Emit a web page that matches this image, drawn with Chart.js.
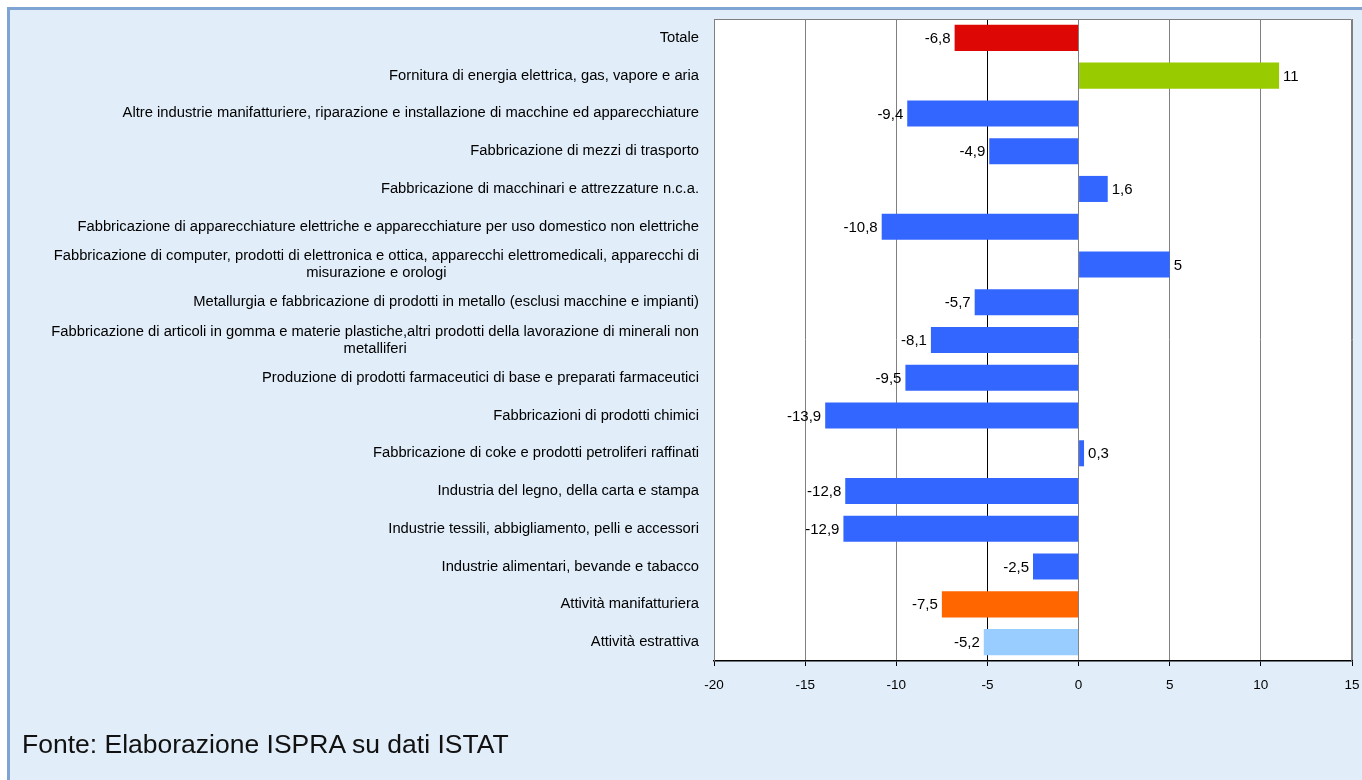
<!DOCTYPE html>
<html>
<head>
<meta charset="utf-8">
<script src="https://cdn.jsdelivr.net/npm/chart.js@4/dist/chart.umd.min.js"></script>
<style>
  html, body { margin: 0; padding: 0; width: 1362px; height: 780px; overflow: hidden; background: #ffffff; }
  #frame {
    position: absolute; left: 7px; top: 7px; width: 1400px; height: 800px;
    border-left: 3px solid #7fa3d3; border-top: 3px solid #7fa3d3;
    background: #e1edf8;
  }
  #wrap { position: absolute; left: 0; top: 0; width: 1362px; height: 780px; }
  #source {
    position: absolute; left: 22px; top: 729px;
    font-family: "Liberation Sans", Arial, sans-serif; font-size: 26.5px; color: #111;
  }
</style>
</head>
<body>
<div id="frame"></div>
<div id="wrap"><canvas id="chart" width="1362" height="780"></canvas></div>
<div id="source">Fonte: Elaborazione ISPRA su dati ISTAT</div>
<script>
// categorie (dall'alto verso il basso)
const categories = [
    'Totale',
    'Fornitura di energia elettrica, gas, vapore e aria',
    'Altre industrie manifatturiere, riparazione e installazione di macchine ed apparecchiature',
    'Fabbricazione di mezzi di trasporto',
    'Fabbricazione di macchinari e attrezzature n.c.a.',
    'Fabbricazione di apparecchiature elettriche e apparecchiature per uso domestico non elettriche',
    ['Fabbricazione di computer, prodotti di elettronica e ottica, apparecchi elettromedicali, apparecchi di', 'misurazione e orologi'],
    'Metallurgia e fabbricazione di prodotti in metallo (esclusi macchine e impianti)',
    ['Fabbricazione di articoli in gomma e materie plastiche,altri prodotti della lavorazione di minerali non', 'metalliferi'],
    'Produzione di prodotti farmaceutici di base e preparati farmaceutici',
    'Fabbricazioni di prodotti chimici',
    'Fabbricazione di coke e prodotti petroliferi raffinati',
    'Industria del legno, della carta e stampa',
    'Industrie tessili, abbigliamento, pelli e accessori',
    'Industrie alimentari, bevande e tabacco',
    'Attività manifatturiera',
    'Attività estrattiva'
];
const values = [-6.8, 11, -9.4, -4.9, 1.6, -10.8, 5, -5.7, -8.1, -9.5, -13.9, 0.3, -12.8, -12.9, -2.5, -7.5, -5.2];
const barColors = ['#dd0806', '#99cc00', '#3366ff', '#3366ff', '#3366ff', '#3366ff', '#3366ff', '#3366ff', '#3366ff',
    '#3366ff', '#3366ff', '#3366ff', '#3366ff', '#3366ff', '#3366ff', '#ff6600', '#99ccff'];
const xMin = -20, xMax = 15, xStep = 5;

const FONT = '"Liberation Sans", Arial, sans-serif';

function fmt(v) {
    return String(v).replace('.', ',');
}

// sfondo bianco e bordo dell'area del grafico
const areaPlugin = {
    id: 'area',
    beforeDraw(chart) {
        const a = chart.chartArea, ctx = chart.ctx;
        ctx.save();
        ctx.fillStyle = '#ffffff';
        ctx.fillRect(a.left, a.top, a.right - a.left, a.bottom - a.top);
        ctx.restore();
    },
    afterDraw(chart) {
        const a = chart.chartArea, ctx = chart.ctx;
        ctx.save();
        ctx.strokeStyle = '#808080';
        ctx.lineWidth = 1;
        ctx.beginPath();
        ctx.moveTo(a.left + 0.5, a.bottom);
        ctx.lineTo(a.left + 0.5, a.top + 0.5);
        ctx.lineTo(a.right - 0.5, a.top + 0.5);
        ctx.lineTo(a.right - 0.5, a.bottom);
        ctx.stroke();
        ctx.restore();
    }
};

// etichette delle categorie (righe centrate tra loro, blocco allineato a destra) ed etichette dei valori
const labelsPlugin = {
    id: 'labels',
    afterDatasetsDraw(chart) {
        const ctx = chart.ctx;
        const y = chart.scales.y;
        const x = chart.scales.x;
        ctx.save();
        ctx.font = '14.75px ' + FONT;
        ctx.fillStyle = '#000000';
        ctx.textBaseline = 'middle';
        const rightEdge = chart.chartArea.left - 15;
        categories.forEach((cat, i) => {
            const lines = Array.isArray(cat) ? cat : [cat];
            const w = Math.max(...lines.map(l => ctx.measureText(l).width));
            const cy = y.getPixelForTick(i);
            const lh = 17;
            ctx.textAlign = 'center';
            lines.forEach((l, k) => {
                ctx.fillText(l, rightEdge - w / 2, cy + (k - (lines.length - 1) / 2) * lh);
            });
        });
        ctx.font = '15px ' + FONT;
        const meta = chart.getDatasetMeta(0);
        meta.data.forEach((bar, i) => {
            const v = values[i];
            const px = x.getPixelForValue(v);
            if (v < 0) {
                ctx.textAlign = 'right';
                ctx.fillText(fmt(v), px - 4, bar.y + 1);
            } else {
                ctx.textAlign = 'left';
                ctx.fillText(fmt(v), px + 4, bar.y + 1);
            }
        });
        ctx.restore();
    }
};

new Chart(document.getElementById('chart'), {
    type: 'bar',
    data: {
        labels: categories,
        datasets: [{
            data: values,
            backgroundColor: barColors,
            borderWidth: 0,
            barPercentage: 0.69,
            categoryPercentage: 1.0
        }]
    },
    options: {
        indexAxis: 'y',
        responsive: false,
        animation: false,
        devicePixelRatio: 1,
        layout: { padding: { top: 19, right: 0, left: 0, bottom: 0 } },
        plugins: {
            legend: { display: false },
            tooltip: { enabled: false }
        },
        scales: {
            x: {
                min: xMin,
                max: xMax,
                ticks: {
                    stepSize: xStep,
                    color: '#000000',
                    font: { family: FONT, size: 13.5 },
                    padding: 11
                },
                grid: {
                    color: ctx => (ctx.tick && ctx.tick.value === -5) ? '#000000' : '#808080',
                    tickColor: '#000000',
                    tickLength: 5,
                    drawOnChartArea: true
                },
                border: { display: true, color: '#000000', width: 1.5 },
                afterFit(scale) {
                    scale.height = 119;
                    scale.paddingRight = 10;
                }
            },
            y: {
                ticks: { display: false },
                grid: { display: false },
                border: { display: false },
                afterFit(scale) { scale.width = 714; }
            }
        }
    },
    plugins: [areaPlugin, labelsPlugin]
});
</script>
</body>
</html>
